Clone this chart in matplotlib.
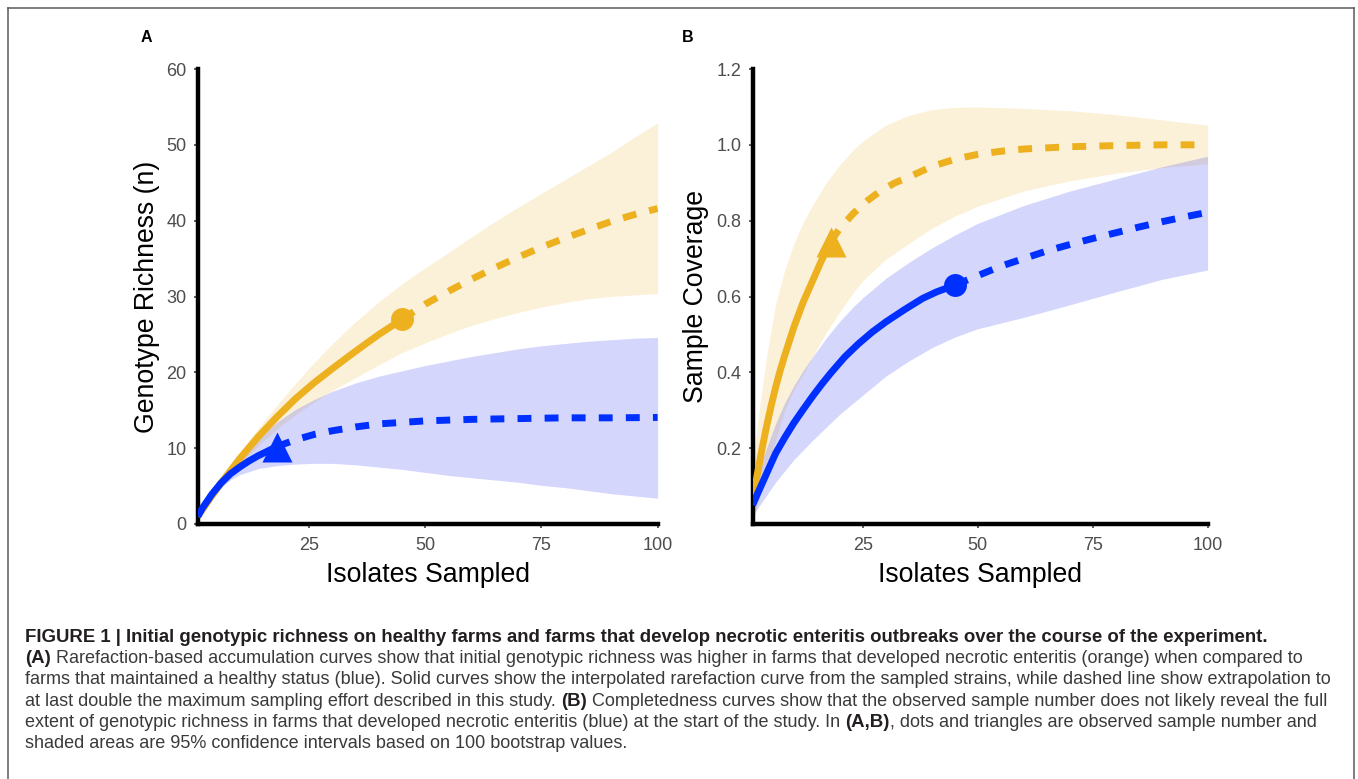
import matplotlib
matplotlib.use("Agg")
import matplotlib.pyplot as plt
from matplotlib.lines import Line2D
from matplotlib.transforms import IdentityTransform

plt.rcParams['font.family'] = ['Liberation Sans', 'DejaVu Sans']

# colours
ORANGE = '#EDB120'
BLUE = '#0030FF'

# ---------------- Panel A: genotype richness ----------------
a_orange_obs_x = [1, 3, 6, 10, 14, 18, 22, 26, 30, 35, 40, 45]
a_orange_obs_y = [1.0, 2.8, 5.4, 8.6, 11.5, 14.1, 16.5, 18.6, 20.5, 22.8, 25.0, 27.0]
a_orange_ext_x = [45, 50, 55, 60, 65, 70, 75, 80, 85, 90, 95, 100]
a_orange_ext_y = [27.0, 29.0, 30.7, 32.3, 33.8, 35.2, 36.5, 37.7, 38.8, 39.9, 40.8, 41.6]
a_orange_ci_x = [1, 5, 10, 15, 20, 25, 30, 35, 40, 45, 50, 55, 60, 65, 70, 75, 80, 85, 90, 95, 100]
a_orange_ci_hi = [1.1, 5.0, 9.4, 13.4, 17.1, 20.6, 23.8, 26.7, 29.3, 31.7, 33.8, 35.8, 37.9,
                  39.9, 41.8, 43.6, 45.4, 47.2, 49.0, 51.0, 52.9]
a_orange_ci_lo = [0.9, 4.4, 7.9, 10.9, 13.5, 15.7, 17.6, 19.3, 21.0, 22.6, 23.9, 25.1, 26.2,
                  27.1, 27.9, 28.6, 29.2, 29.7, 30.0, 30.2, 30.4]

a_blue_obs_x = [1, 2, 4, 6, 8, 10, 12, 14, 16, 18]
a_blue_obs_y = [1.0, 2.1, 3.9, 5.4, 6.6, 7.5, 8.3, 9.0, 9.6, 10.2]
a_blue_ext_x = [18, 22, 26, 30, 35, 40, 45, 50, 60, 70, 80, 90, 100]
a_blue_ext_y = [10.2, 11.1, 11.8, 12.3, 12.8, 13.2, 13.4, 13.6, 13.8, 13.9, 14.0, 14.0, 14.05]
a_blue_ci_x = [1, 3, 5, 8, 10, 14, 18, 22, 26, 30, 35, 40, 45, 50, 55, 60, 65, 70, 75, 80,
               85, 90, 95, 100]
a_blue_ci_hi = [1.0, 3.0, 4.8, 7.2, 8.6, 11.3, 13.4, 15.1, 16.4, 17.5, 18.6, 19.5, 20.2, 20.9,
                21.5, 22.1, 22.6, 23.1, 23.5, 23.8, 24.1, 24.3, 24.5, 24.6]
a_blue_ci_lo = [0.95, 2.8, 4.3, 5.8, 6.5, 7.3, 7.7, 7.9, 8.0, 8.0, 7.8, 7.5, 7.2, 6.8, 6.4,
                6.1, 5.8, 5.5, 5.1, 4.8, 4.4, 4.0, 3.7, 3.4]

# ---------------- Panel B: sample coverage ----------------
b_orange_obs_x = [1, 2, 3, 4, 5, 6, 7, 8, 10, 12, 14, 16, 18]
b_orange_obs_y = [0.06, 0.13, 0.195, 0.255, 0.31, 0.36, 0.405, 0.445, 0.52, 0.585, 0.64,
                  0.695, 0.745]
b_orange_ext_x = [18, 20, 23, 26, 29, 32, 35, 40, 45, 50, 55, 60, 70, 80, 90, 100]
b_orange_ext_y = [0.745, 0.78, 0.82, 0.853, 0.88, 0.90, 0.915, 0.943, 0.962, 0.975, 0.983,
                  0.989, 0.995, 0.998, 1.0, 1.0]

b_blue_obs_x = [1, 2, 3, 4, 6, 8, 10, 12, 14, 16, 18, 21, 24, 27, 30, 34, 38, 41, 45]
b_blue_obs_y = [0.05, 0.078, 0.105, 0.132, 0.186, 0.228, 0.267, 0.302, 0.336, 0.368, 0.398,
                0.44, 0.475, 0.506, 0.533, 0.565, 0.595, 0.612, 0.63]
b_blue_ext_x = [45, 50, 55, 60, 65, 70, 75, 80, 85, 90, 95, 100]
b_blue_ext_y = [0.63, 0.655, 0.68, 0.70, 0.72, 0.737, 0.753, 0.768, 0.783, 0.797, 0.81, 0.822]

b_ci_x = [1, 2, 4, 6, 8, 10, 12, 14, 17, 20, 23, 25, 30, 35, 40, 45, 50, 60, 70, 80, 90, 100]
b_orange_ci_hi = [0.15, 0.26, 0.44, 0.58, 0.67, 0.74, 0.795, 0.84, 0.90, 0.948, 0.988, 1.01,
                  1.052, 1.078, 1.093, 1.099, 1.10, 1.096, 1.09, 1.08, 1.066, 1.052]
b_orange_ci_lo = [0.0, 0.05, 0.13, 0.22, 0.30, 0.355, 0.395, 0.44, 0.505, 0.56, 0.612, 0.642,
                  0.698, 0.74, 0.78, 0.812, 0.838, 0.878, 0.905, 0.925, 0.94, 0.95]
b_blue_ci_hi = [0.09, 0.13, 0.20, 0.265, 0.32, 0.365, 0.405, 0.44, 0.49, 0.535, 0.574, 0.597,
                0.648, 0.69, 0.728, 0.762, 0.793, 0.84, 0.878, 0.91, 0.942, 0.97]
b_blue_ci_lo = [0.02, 0.04, 0.075, 0.11, 0.14, 0.17, 0.195, 0.22, 0.255, 0.29, 0.32, 0.34,
                0.39, 0.43, 0.465, 0.493, 0.515, 0.545, 0.578, 0.612, 0.645, 0.67]

x_ticks = [25, 50, 75, 100]
a_y_ticks = [0, 10, 20, 30, 40, 50, 60]
b_y_ticks = [0.2, 0.4, 0.6, 0.8, 1.0, 1.2]

caption_lines = [
    [("FIGURE 1 | Initial genotypic richness on healthy farms and farms that develop necrotic "
      "enteritis outbreaks over the course of the experiment.", True)],
    [("(A)", True), ("Rarefaction-based accumulation curves show that initial genotypic richness "
                     "was higher in farms that developed necrotic enteritis (orange) when compared to", False)],
    [("farms that maintained a healthy status (blue). Solid curves show the interpolated rarefaction "
      "curve from the sampled strains, while dashed line show extrapolation to", False)],
    [("at last double the maximum sampling effort described in this study.", False), ("(B)", True),
     ("Completedness curves show that the observed sample number does not likely reveal the full", False)],
    [("extent of genotypic richness in farms that developed necrotic enteritis (blue) at the start "
      "of the study. In", False), ("(A,B)", True),
     (", dots and triangles are observed sample number and", False)],
    [("shaded areas are 95% confidence intervals based on 100 bootstrap values.", False)],
]

W, H = 1358, 779
fig = plt.figure(figsize=(W / 100, H / 100), dpi=100)

ax_a = fig.add_axes([197.8 / W, 1 - 524 / H, 459.8 / W, 455 / H])
ax_b = fig.add_axes([752.6 / W, 1 - 524 / H, 455 / W, 455 / H])


def draw_panel(ax, orange, blue, orange_marker, blue_marker):
    for (cx, lo, hi, c, al) in [(orange[4], orange[5], orange[6], ORANGE, 0.17),
                                (blue[4], blue[5], blue[6], '#2A34F0', 0.2)]:
        ax.fill_between(cx, lo, hi, color=c, alpha=al, lw=0, zorder=1)
    for (ox, oy, ex, ey, c, mk, ms) in [(orange[0], orange[1], orange[2], orange[3], ORANGE,
                                         orange_marker[0], orange_marker[1]),
                                        (blue[0], blue[1], blue[2], blue[3], BLUE,
                                         blue_marker[0], blue_marker[1])]:
        ax.plot(ox, oy, color=c, lw=5, solid_capstyle='butt', solid_joinstyle='round', zorder=3)
        ax.plot(ex, ey, color=c, lw=5, linestyle=(0, (2.0, 1.9)), dash_capstyle='butt', zorder=3)
        ax.plot([ox[-1]], [oy[-1]], marker=mk, ms=ms, color=c, mec='none', zorder=4)
    ax.set_xlim(1, 100)
    ax.set_xticks(x_ticks)
    for side in ['top', 'right']:
        ax.spines[side].set_visible(False)
    for side in ['left', 'bottom']:
        ax.spines[side].set_linewidth(3.2)
        ax.spines[side].set_color('black')
    ax.tick_params(length=3, width=1.1, color='#333333', labelsize=13,
                   labelcolor='#4d4d4d')
    ax.tick_params(axis='x', pad=6.5)
    ax.tick_params(axis='y', pad=5)
    ax.set_xlabel("Isolates Sampled", fontsize=19.2, color='black')
    ax.xaxis.set_label_coords(0.5, -0.112)
    ax.xaxis.label.set_va('center')


draw_panel(ax_a,
           (a_orange_obs_x, a_orange_obs_y, a_orange_ext_x, a_orange_ext_y,
            a_orange_ci_x, a_orange_ci_lo, a_orange_ci_hi),
           (a_blue_obs_x, a_blue_obs_y, a_blue_ext_x, a_blue_ext_y,
            a_blue_ci_x, a_blue_ci_lo, a_blue_ci_hi),
           ('o', 16.5), ('^', 22))
ax_a.set_ylim(0, 60)
ax_a.set_yticks(a_y_ticks)
ax_a.set_ylabel("Genotype Richness (n)", fontsize=19.2, color='black')
ax_a.yaxis.set_label_coords(-0.1105, 0.5)
ax_a.yaxis.label.set_va('center')

draw_panel(ax_b,
           (b_orange_obs_x, b_orange_obs_y, b_orange_ext_x, b_orange_ext_y,
            b_ci_x, b_orange_ci_lo, b_orange_ci_hi),
           (b_blue_obs_x, b_blue_obs_y, b_blue_ext_x, b_blue_ext_y,
            b_ci_x, b_blue_ci_lo, b_blue_ci_hi),
           ('^', 22), ('o', 16.5))
ax_b.set_ylim(0, 1.2)
ax_b.set_yticks(b_y_ticks)
ax_b.set_yticklabels([f"{v:.1f}" for v in b_y_ticks])
ax_b.set_ylabel("Sample Coverage", fontsize=19.2, color='black')
ax_b.yaxis.set_label_coords(-0.1253, 0.5)
ax_b.yaxis.label.set_va('center')

# panel letters
fig.text(146.4 / W, 1 - 38 / H, "A", fontsize=11.5, fontweight='bold', ha='center', va='center')
fig.text(687.6 / W, 1 - 38 / H, "B", fontsize=11.5, fontweight='bold', ha='center', va='center')

# frame (no bottom edge)
frame_col = '#5a5a5a'
fig.add_artist(Line2D([7.5 / W, 7.5 / W], [0, 1 - 8 / H], color=frame_col, lw=1.1))
fig.add_artist(Line2D([7.5 / W, 1353.5 / W], [1 - 8 / H, 1 - 8 / H], color=frame_col, lw=1.1))
fig.add_artist(Line2D([1353.5 / W, 1353.5 / W], [0, 1 - 8 / H], color=frame_col, lw=1.1))

# caption with bold runs
renderer = fig.canvas.get_renderer()
BOLD_SIZE = 13.45
REG_SIZE = 13.0


def text_width(s, bold):
    t = fig.text(0, 0, s, fontsize=BOLD_SIZE if bold else REG_SIZE,
                 fontweight='bold' if bold else 'normal', transform=IdentityTransform())
    w = t.get_window_extent(renderer).width
    t.remove()
    return w


space_w = text_width("a a", False) - text_width("aa", False)
baselines = [641.5, 663, 684.3, 705.6, 726.9, 748.2]
for runs, base in zip(caption_lines, baselines):
    x = 25
    for i, (s, bold) in enumerate(runs):
        if i > 0 and not s.startswith(','):
            x += space_w
        t = fig.text(x, H - base, s, fontsize=BOLD_SIZE if bold else REG_SIZE,
                     fontweight='bold' if bold else 'normal',
                     color='#231f20' if bold else '#3a3a3a',
                     va='baseline', ha='left', transform=IdentityTransform())
        x += t.get_window_extent(renderer).width

fig.savefig("out.png", dpi=100)
